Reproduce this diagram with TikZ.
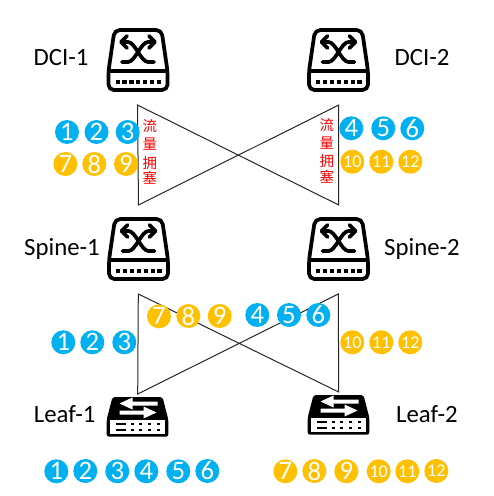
\documentclass[tikz,border=0pt]{standalone}
\usepackage{fontspec}
\setmainfont{Carlito}
\newfontfamily\cjk{Noto Sans CJK SC}
\tikzset{
  x=0.75pt,y=-0.75pt,
  link/.style={draw=black!85,line width=0.75pt},
  lbl/.style={font=\fontsize{18.6}{20}\selectfont,text=black,inner sep=0pt},
  blue badge/.style={circle,fill=cblue,text=white,minimum size=18pt,inner sep=0pt,font=\fontsize{20}{22}\selectfont},
  gold badge/.style={circle,fill=cgold,text=white,minimum size=18pt,inner sep=0pt,font=\fontsize{20}{22}\selectfont},
  small badge/.style={gold badge,font=\fontsize{13.5}{15}\selectfont},
  red text/.style={text=red,inner sep=0pt,font=\cjk\fontsize{10.8}{12}\selectfont},
  switchicon/.pic={
    \draw[line width=2.8pt,rounded corners=4pt,line join=round]
      (-23.5,-30)--(-29.5,11)--(-29.5,30)--(29.5,30)--(29.5,11)--(23.5,-30)--cycle;
    \draw[line width=2.7pt] (-29,11)--(29,11);
    \foreach \k in {0,...,6}{
      \fill ({-22.5+6.9*\k},19.8)rectangle ({-18.3+6.9*\k},24);}
    \draw[line width=2.8pt,line cap=round,line join=round]
      (-16,2)--(-10,2) .. controls (-3,2) and (3,-18) .. (10,-18)--(16,-18)
      (11,-24)--(17,-18)--(11,-12)
      (16,2)--(10,2) .. controls (3,2) and (-3,-18) .. (-10,-18)--(-16,-18)
      (-11,-24)--(-17,-18)--(-11,-12);
  },
  leaficon/.pic={
    \fill[rounded corners=1.5pt] (-25,-19.5)--(25,-19.5)--(30.8,3)--(30.8,20)--(-30.8,20)--(-30.8,3)--cycle;
    \fill[white] (-27.8,3.5) rectangle (27.8,17.5);
    \fill[white] (-18,-13)--(-5,-19)--(-5,-15)--(20,-15)--(20,-11)--(-5,-11)--(-5,-7)--cycle;
    \fill[white] (19,-4)--(6,2)--(6,-2)--(-18,-2)--(-18,-6)--(6,-6)--(6,-10)--cycle;
    \foreach \yy in {6,12}{
      \fill (-22,\yy) rectangle (-12,{\yy+2.6});
      \foreach \xx in {-7,1.5,10.5,19.5}{
        \fill (\xx,\yy) rectangle ({\xx+3.2},{\yy+2.6});}
    }
  },
}
\definecolor{cblue}{HTML}{00B0F0}
\definecolor{cgold}{HTML}{FFC000}
\begin{document}
\begin{tikzpicture}
\useasboundingbox (0,0) rectangle (493,496);
% connector end points
\coordinate (tl1) at (137.5,105);
\coordinate (bl1) at (138.5,205);
\coordinate (tr1) at (338.7,105);
\coordinate (br1) at (338.7,205);
\coordinate (tl2) at (138.3,294);
\coordinate (bl2) at (137.7,394);
\coordinate (tr2) at (338.3,294);
\coordinate (br2) at (338.7,392);
\draw[link] (tl1)--(bl1)--(tr1)--(br1)--cycle;
\draw[link] (tl2)--(bl2)--(tr2)--(br2)--cycle;
% devices
\pic at (138,60) {switchicon};
\pic at (338.5,60) {switchicon};
\pic at (138.5,249) {switchicon};
\pic at (338.5,249) {switchicon};
\pic at (137.5,416.5) {leaficon};
\pic at (338.5,414.5) {leaficon};
% labels
\node[lbl] (dci1) at (61,58) {DCI-1};
\node[lbl] (dci2) at (422,58) {DCI-2};
\node[lbl] (sp1) at (62,249) {Spine-1};
\node[lbl] (sp2) at (422,249) {Spine-2};
\node[lbl] (lf1) at (64.7,414) {Leaf-1};
\node[lbl] (lf2) at (427,414) {Leaf-2};
% congestion labels
\node[red text] (a1) at (149.7,126) {流};
\node[red text] (a2) at (149.7,144) {量};
\node[red text] (a3) at (149.7,163) {拥};
\node[red text] (a4) at (149.7,178) {塞};
\node[red text] (b1) at (326.7,125) {流};
\node[red text] (b2) at (326.7,143) {量};
\node[red text] (b3) at (326.7,161) {拥};
\node[red text] (b4) at (326.7,177) {塞};
% top left
\node[blue badge] (p1) at (67,132) {1};
\node[blue badge] (p2) at (96.5,132) {2};
\node[blue badge] (p3) at (127.7,132) {3};
\node[gold badge] (p7) at (65.3,164) {7};
\node[gold badge] (p8) at (94.3,164) {8};
\node[gold badge] (p9) at (126,164) {9};
% top right
\node[blue badge] (q4) at (351.3,128.3) {4};
\node[blue badge] (q5) at (383.3,128.3) {5};
\node[blue badge] (q6) at (412.3,128.3) {6};
\node[small badge] (q10) at (352.3,161.7) {10};
\node[small badge] (q11) at (381.3,161.7) {11};
\node[small badge] (q12) at (410.3,161.7) {12};
% middle left
\node[blue badge] (r1) at (63.3,342.3) {1};
\node[blue badge] (r2) at (92.3,342.3) {2};
\node[blue badge] (r3) at (124.3,342.3) {3};
\node[gold badge] (r7) at (159,316.3) {7};
\node[gold badge] (r8) at (188.3,316) {8};
\node[gold badge] (r9) at (219.7,316) {9};
% middle right
\node[blue badge] (s4) at (257.3,315) {4};
\node[blue badge] (s5) at (289,315) {5};
\node[blue badge] (s6) at (318.3,315) {6};
\node[small badge] (s10) at (352.3,342.3) {10};
\node[small badge] (s11) at (381.3,342.3) {11};
\node[small badge] (s12) at (410.3,342.3) {12};
% bottom left
\node[blue badge] (t1) at (56.3,471.3) {1};
\node[blue badge] (t2) at (85.3,471) {2};
\node[blue badge] (t3) at (117.3,471.3) {3};
\node[blue badge] (t4) at (146.3,471.3) {4};
\node[blue badge] (t5) at (178.3,471.3) {5};
\node[blue badge] (t6) at (207.3,471) {6};
% bottom right
\node[gold badge] (u7) at (285.3,471.3) {7};
\node[gold badge] (u8) at (314.3,471) {8};
\node[gold badge] (u9) at (346.3,471.3) {9};
\node[small badge] (u10) at (378.7,471.3) {10};
\node[small badge] (u11) at (407.3,471.3) {11};
\node[small badge] (u12) at (436.3,471) {12};
\end{tikzpicture}
\end{document}
